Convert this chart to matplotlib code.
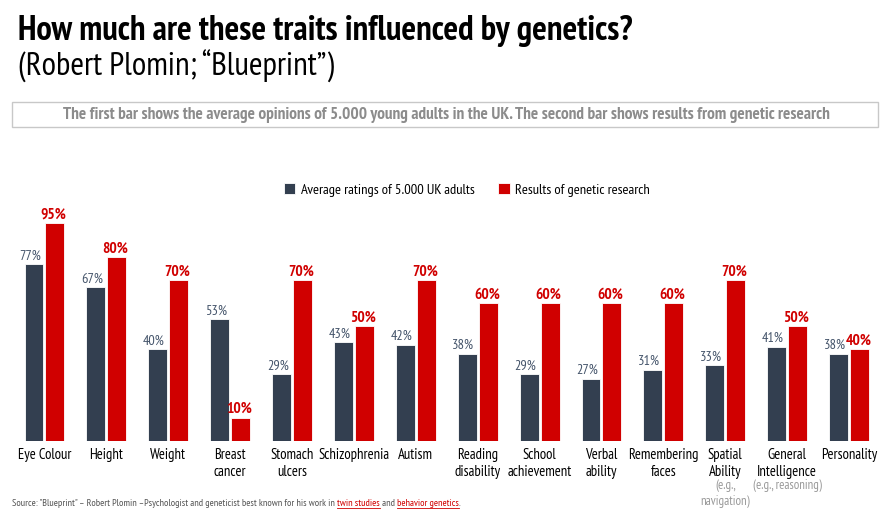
import numpy as np
import matplotlib
matplotlib.use("Agg")
import matplotlib.pyplot as plt
from matplotlib import font_manager
from matplotlib.patches import Rectangle
from matplotlib.lines import Line2D

# pick a narrow sans that has a bold cut, else plain Liberation Sans
weights = {}
for f in font_manager.fontManager.ttflist:
    weights.setdefault(f.name, set()).add(f.weight)
cands = ["Liberation Sans Narrow", "Arial Narrow", "PT Sans Narrow", "Roboto Condensed",
         "Open Sans Condensed", "Archivo Narrow", "Liberation Sans"]
FONT = next((c for c in cands if c in weights and max(weights[c]) >= 700), "Liberation Sans")
plt.rcParams['font.family'] = [FONT, 'DejaVu Sans']

# data
traits = ["Eye Colour", "Height", "Weight", "Breast\ncancer", "Stomach\nulcers",
          "Schizophrenia", "Autism", "Reading\ndisability", "School\nachievement",
          "Verbal\nability", "Remembering\nfaces", "Spatial\nAbility",
          "General\nIntelligence", "Personality"]
notes = {11: "(e.g.,\nnavigation)", 12: "(e.g., reasoning)"}
opinion = [77, 67, 40, 53, 29, 43, 42, 38, 29, 27, 31, 33, 41, 38]
genetic = [95, 80, 70, 10, 70, 50, 70, 60, 60, 60, 60, 70, 50, 40]

DARK = "#333f50"
DARK_TXT = "#44546a"
RED = "#d00000"
GREY_TXT = "#8c8c8c"

W, H = 883, 514
fig = plt.figure(figsize=(W / 100, H / 100), dpi=100)
r = fig.canvas.get_renderer()


def fit(s, px, **kw):
    """font size that makes string s about px pixels wide"""
    t = fig.text(0, 0, s, fontsize=10, **kw)
    w = t.get_window_extent(renderer=r).width
    t.remove()
    return 10 * px / w


fs_title = fit("How much are these traits influenced by genetics?", 619, fontweight="bold")
fs_sub = fit("(Robert Plomin; \u201cBlueprint\u201d)", 315)
box_txt = ("The first bar shows the average opinions of 5.000 young adults in the UK. "
           "The second bar shows results from genetic research")
fs_box = fit(box_txt, 772, fontweight="bold")
fs_leg = fit("Average ratings of 5.000 UK adults", 174)
fs_tick = fit("Schizophrenia", 71)
fs_val = fit("77%", 22)
fs_red = fit("95%", 26, fontweight="bold")
fs_note = fit("(e.g., reasoning)", 69)
src1 = "Source: \"Blueprint\" \u2013 Robert Plomin \u2013Psychologist and geneticist best known for his work in "
fs_src = fit(src1, 326)

# axes placed in pixel terms
ax = fig.add_axes([13.5 / W, 73 / H, 866.5 / W, 229.5 / H])
ax.set_xlim(-0.5, len(traits) - 0.5)
ax.set_ylim(0, 100)
for s in ax.spines.values():
    s.set_visible(False)
ax.set_yticks([])

x = np.arange(len(traits))
bw = 0.306
gap = 0.016
b1 = ax.bar(x - bw / 2 - gap, opinion, bw, color=DARK, edgecolor="white", linewidth=0.6,
            label="Average ratings of 5.000 UK adults")
b2 = ax.bar(x + bw / 2 + gap, genetic, bw, color=RED, edgecolor="white", linewidth=0.6,
            label="Results of genetic research")

for xi, v in zip(x, opinion):
    ax.text(xi - bw / 2 - gap - 0.06, v + 0.8, f"{v}%", ha="center", va="bottom",
            fontsize=fs_val, color=DARK_TXT)
for xi, v in zip(x, genetic):
    ax.text(xi + bw / 2 + gap - 0.02, v + 0.8, f"{v}%", ha="center", va="bottom",
            fontsize=fs_red, color=RED, fontweight="bold")

ax.set_xticks(x)
ax.set_xticklabels(traits, fontsize=fs_tick, linespacing=1.25)
ax.tick_params(axis="x", length=0, pad=5)
for i, t in notes.items():
    ax.text(x[i], -16.5, t, ha="center", va="top", fontsize=fs_note, color="#9a9a9a",
            linespacing=1.3, clip_on=False)

ax.legend(handles=[b1, b2], loc="center", bbox_to_anchor=(467 / W, 1 - 190 / H),
          bbox_transform=fig.transFigure, ncol=2, frameon=False, fontsize=fs_leg,
          handlelength=0.8, handleheight=0.8, handletextpad=0.4, columnspacing=1.6)

# titles
fig.text(18 / W, 1 - 40 / H, "How much are these traits influenced by genetics?", fontsize=fs_title,
         fontweight="bold", ha="left", va="baseline")
fig.text(18 / W, 1 - 76 / H, "(Robert Plomin; \u201cBlueprint\u201d)", fontsize=fs_sub,
         ha="left", va="baseline")

fig.patches.append(Rectangle((12 / W, 1 - 127 / H), 866 / W, 25 / H, transform=fig.transFigure,
                             facecolor="white", edgecolor="#c8c8c8", linewidth=1))
fig.text(446 / W, 1 - 115 / H, box_txt, fontsize=fs_box, fontweight="bold",
         color=GREY_TXT, ha="center", va="center")

# source line with underlined links
parts = [(src1, "#555555", False), ("twin studies", RED, True), (" and ", "#555555", False),
         ("behavior genetics", RED, True), (".", "#555555", False)]
xpos = 12
for txt, col, ul in parts:
    t = fig.text(xpos / W, 1 - 506 / H, txt, fontsize=fs_src, color=col, ha="left", va="baseline")
    bb = t.get_window_extent(renderer=r)
    if ul:
        fig.lines.append(Line2D([bb.x0 / W, bb.x1 / W], [(H - 508) / H] * 2,
                                transform=fig.transFigure, color=col, linewidth=0.6))
    xpos = bb.x1

fig.savefig("out.png", dpi=100)
